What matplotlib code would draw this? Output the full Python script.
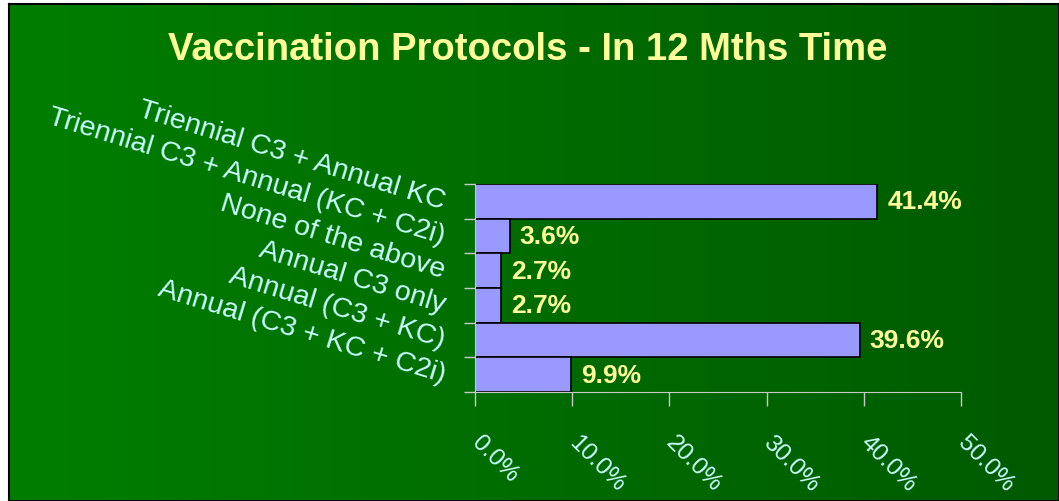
import numpy as np
import matplotlib
matplotlib.use('Agg')
import matplotlib.pyplot as plt
from matplotlib.ticker import FixedLocator, PercentFormatter

categories = ['Triennial C3 + Annual KC', 'Triennial C3 + Annual (KC + C2i)',
              'None of the above', 'Annual C3 only', 'Annual (C3 + KC)',
              'Annual (C3 + KC + C2i)']
values = [41.4, 3.6, 2.7, 2.7, 39.6, 9.9]
x_ticks = [0, 10, 20, 30, 40, 50]
title = 'Vaccination Protocols - In 12 Mths Time'

plt.rcParams['font.family'] = ['Liberation Sans', 'DejaVu Sans']

W, H = 1059, 502
fig = plt.figure(figsize=(W / 100, H / 100), dpi=100)
fig.patch.set_facecolor('white')

# green gradient panel with a dark frame
bg = fig.add_axes([9 / W, 0, 1 - 9 / W, 1 - 5 / H])
left = np.array([0, 126, 0]) / 255
right = np.array([0, 90, 0]) / 255
t = np.linspace(0, 1, 256)[None, :, None]
grad = left + (right - left) * t
bg.imshow(grad, aspect='auto', extent=[0, 1, 0, 1])
bg.set_xticks([])
bg.set_yticks([])
for s in bg.spines.values():
    s.set_color('black')
    s.set_linewidth(1.5)

ax = fig.add_axes([475 / W, 1 - 393 / H, (961 - 475) / W, (393 - 185) / H])
ax.patch.set_alpha(0)

n = len(categories)
pos = np.arange(n)
ax.barh(pos, values, height=1.0, color='#9999FF', edgecolor='black', linewidth=1.2)
for p, v in zip(pos, values):
    ax.annotate(f'{v:.1f}%', (v, p), xytext=(7, 0), textcoords='offset points',
                va='center', ha='left', color='#FFFF99', fontsize=19, fontweight='bold')

ax.set_xlim(0, 50)
ax.set_ylim(n - 0.5, -0.5)

ax.xaxis.set_major_locator(FixedLocator(x_ticks))
ax.xaxis.set_major_formatter(PercentFormatter(decimals=1))
ax.tick_params(axis='x', colors='#C8C8C8', length=10, width=1, pad=24)
for lbl in ax.get_xticklabels():
    lbl.set_rotation(-45)
    lbl.set_rotation_mode('anchor')
    lbl.set_ha('left')
    lbl.set_va('center')
    lbl.set_color('#CCFFFF')
    lbl.set_fontsize(17.5)

# ticks at category boundaries, labels at centres
ax.yaxis.set_major_locator(FixedLocator(np.arange(n + 1) - 0.5))
ax.yaxis.set_major_formatter(plt.NullFormatter())
ax.yaxis.set_minor_locator(FixedLocator(pos))
ax.set_yticklabels(categories, minor=True)
ax.tick_params(axis='y', which='major', colors='#C8C8C8', length=8, width=1)
ax.tick_params(axis='y', which='minor', length=0, pad=22)
for lbl in ax.get_yticklabels(minor=True):
    lbl.set_rotation(-17)
    lbl.set_rotation_mode('anchor')
    lbl.set_ha('right')
    lbl.set_va('center')
    lbl.set_color('#CCFFFF')
    lbl.set_fontsize(20.5)

for side in ['top', 'right']:
    ax.spines[side].set_visible(False)
ax.spines['left'].set_color('#C8C8C8')
ax.spines['bottom'].set_color('#C8C8C8')

fig.text(528 / W, 1 - 50 / H, title, ha='center', va='center', color='#FFFF99',
         fontsize=27.5, fontweight='bold')

plt.savefig('out.png', dpi=100)
